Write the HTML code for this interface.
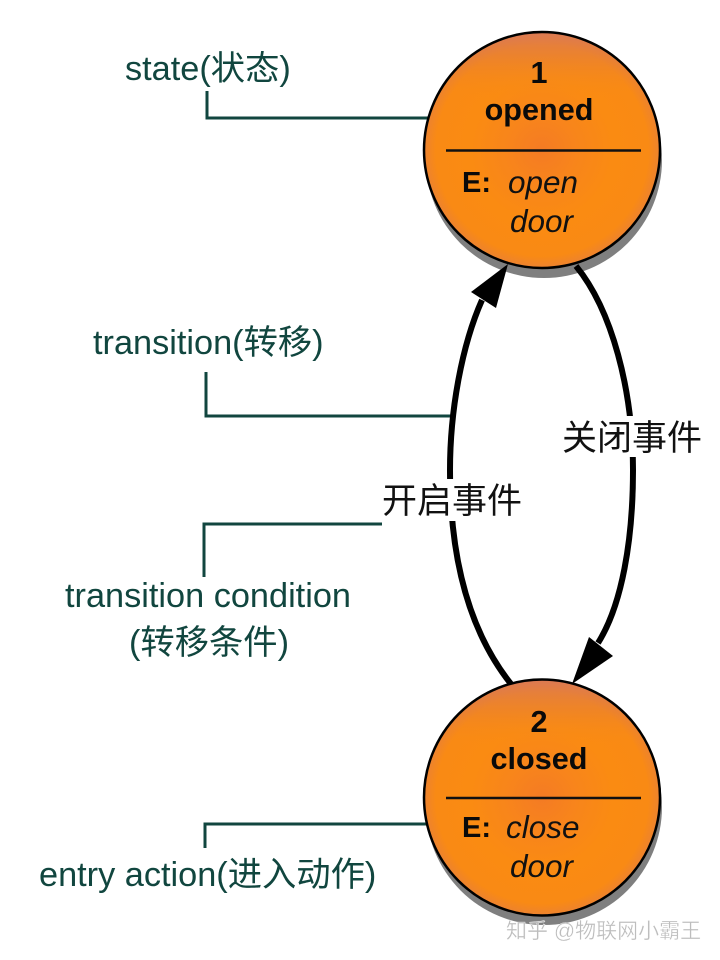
<!DOCTYPE html>
<html><head><meta charset="utf-8"><style>
html,body{margin:0;padding:0;background:#fff;width:720px;height:960px;overflow:hidden}
svg{display:block}
text{font-family:"Liberation Sans","Noto Sans CJK SC",sans-serif}
.g{fill:#11463f;font-size:34.3px}
.k{fill:#111;font-size:35px}
.b{fill:#0a0a0a;font-size:30.6px;font-weight:bold}
.e{fill:#0a0a0a;font-size:29px;font-weight:bold}
.i{fill:#111;font-size:31.5px;font-style:italic}
</style></head><body>
<svg width="720" height="960" viewBox="0 0 720 960" xmlns="http://www.w3.org/2000/svg">
<defs>
<radialGradient id="o" cx="50%" cy="50%" r="50%">
<stop offset="0" stop-color="#f47b24"/>
<stop offset=".3" stop-color="#f8851b"/>
<stop offset=".6" stop-color="#fa8b12"/>
<stop offset=".9" stop-color="#f98a14"/>
<stop offset="1" stop-color="#ec8230"/>
</radialGradient>
<linearGradient id="t" x1="0" y1="0" x2="0" y2="1">
<stop offset="0" stop-color="#d8785a" stop-opacity=".85"/>
<stop offset=".14" stop-color="#e07c40" stop-opacity=".35"/>
<stop offset=".28" stop-color="#f98a14" stop-opacity="0"/>
</linearGradient>
</defs>
<rect width="720" height="960" fill="#fff"/>

<!-- leader lines -->
<g fill="none" stroke="#11463f" stroke-width="3">
<path d="M207 91V118H431"/>
<path d="M206 372V416H455"/>
<path d="M204 577V524H382"/>
<path d="M205 848V824H428"/>
</g>

<!-- shadows -->
<circle cx="544" cy="160" r="118" fill="#7f7f7f"/>
<circle cx="544" cy="807" r="118" fill="#7f7f7f"/>

<!-- transitions -->
<g fill="none" stroke="#000" stroke-width="6">
<path d="M482 300C462 345 450 410 450 470C450 555 468 630 511 684"/>
<path d="M576 266C612 310 633 390 633 470C633 540 622 605 598 643"/>
</g>
<polygon points="508,264 496,308 471,292" fill="#000"/>
<polygon points="572,684 613,656 589,637" fill="#000"/>

<!-- state circles -->
<circle cx="542" cy="150" r="118" fill="url(#o)"/>
<circle cx="542" cy="150" r="118" fill="url(#t)" stroke="#000" stroke-width="2.5"/>
<circle cx="542" cy="797.500" r="118" fill="url(#o)"/>
<circle cx="542" cy="797.500" r="118" fill="url(#t)" stroke="#000" stroke-width="2.5"/>
<path d="M446 150.500H641M446 798H641" stroke="#111" stroke-width="2.500"/>

<!-- state text -->
<text class="b" x="539" y="83" text-anchor="middle">1</text>
<text class="b" x="539" y="120" text-anchor="middle">opened</text>
<text class="e" x="462" y="192">E:</text>
<text class="i" x="508" y="193">open</text>
<text class="i" x="510" y="232">door</text>
<text class="b" x="539" y="732" text-anchor="middle">2</text>
<text class="b" x="539" y="769" text-anchor="middle">closed</text>
<text class="e" x="462" y="837">E:</text>
<text class="i" x="506" y="838">close</text>
<text class="i" x="510" y="877">door</text>

<!-- transition labels -->
<rect x="380" y="479" width="142" height="42" fill="#fff"/>
<rect x="562" y="416" width="140" height="41" fill="#fff"/>
<text class="k" x="382" y="513">开启事件</text>
<text class="k" x="562" y="450">关闭事件</text>

<!-- annotations -->
<text class="g" x="125" y="80">state(状态)</text>
<text class="g" x="93" y="354">transition(转移)</text>
<text class="g" x="65" y="607">transition condition</text>
<text class="g" x="129" y="654">(转移条件)</text>
<text class="g" x="39" y="886">entry action(进入动作)</text>

<!-- watermark -->
<text x="506" y="938" font-size="21" fill="#bdbdbd" stroke="#fff" stroke-width=".3">知乎 @物联网小霸王</text>
</svg>
</body></html>
